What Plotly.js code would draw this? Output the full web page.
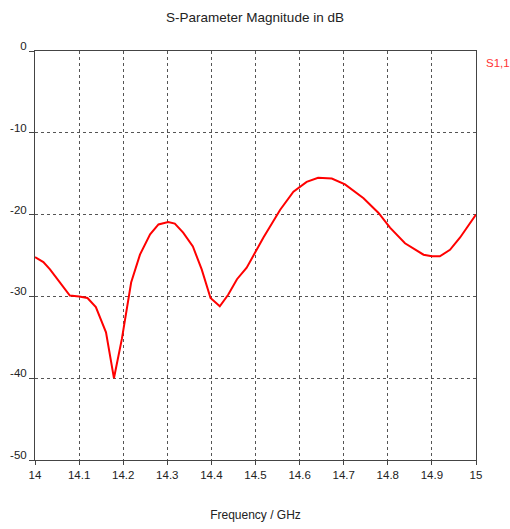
<!DOCTYPE html>
<html>
<head>
<meta charset="utf-8">
<script src="https://cdn.plot.ly/plotly-3.0.1.min.js"></script>
<style>html,body{margin:0;padding:0;background:#fff;}#chart{width:510px;height:529px;}</style>
</head>
<body>
<div id="chart"></div>
<script>
var freq = [14.000, 14.019, 14.034, 14.064, 14.079, 14.100, 14.119, 14.138, 14.161, 14.179, 14.197, 14.218, 14.238, 14.261, 14.280, 14.302, 14.317, 14.336, 14.358, 14.378, 14.398, 14.419, 14.438, 14.458, 14.480, 14.518, 14.556, 14.586, 14.616, 14.642, 14.673, 14.703, 14.745, 14.779, 14.805, 14.839, 14.881, 14.900, 14.918, 14.941, 14.964, 15.000];
var s11 = [-25.2, -25.8, -26.7, -28.9, -29.9, -30.0, -30.2, -31.3, -34.4, -40.0, -35.2, -28.3, -24.9, -22.4, -21.2, -20.9, -21.1, -22.2, -23.9, -26.7, -30.2, -31.2, -29.8, -27.9, -26.5, -22.8, -19.4, -17.2, -16.0, -15.5, -15.6, -16.3, -18.0, -19.8, -21.6, -23.5, -24.9, -25.1, -25.1, -24.3, -22.8, -20.0];
var xTicks = [14, 14.1, 14.2, 14.3, 14.4, 14.5, 14.6, 14.7, 14.8, 14.9, 15];
var xTickText = ['14', '14.1', '14.2', '14.3', '14.4', '14.5', '14.6', '14.7', '14.8', '14.9', '15'];
var yTicks = [0, -10, -20, -30, -40, -50];
var yTickText = ['0', '-10', '-20', '-30', '-40', '-50'];
var seriesName = 'S1,1';

var fam = 'Liberation Sans, Arial, sans-serif';
var tickFont = {family: fam, size: 11.5, color: '#222'};
var trace = {x: freq, y: s11, type: 'scatter', mode: 'lines', name: seriesName,
  line: {color: '#ff0000', width: 2}};
var layout = {
  width: 510, height: 529,
  margin: {l: 35, r: 34, t: 51, b: 69},
  paper_bgcolor: '#fff', plot_bgcolor: '#fff',
  showlegend: false,
  font: tickFont,
  title: {text: 'S-Parameter Magnitude in dB', font: {family: fam, size: 13.5, color: '#222'},
    x: 0.5, xanchor: 'center', y: 0.968, yanchor: 'middle'},
  xaxis: {range: [14, 15], tickvals: xTicks, ticktext: xTickText, showgrid: true,
    gridcolor: '#555', griddash: 'dot', gridwidth: 1, zeroline: false,
    showline: true, linecolor: '#444', mirror: true, ticks: 'outside', ticklen: 4, tickcolor: '#444',
    tickfont: tickFont, title: {text: 'Frequency / GHz', font: {family: fam, size: 12, color: '#222'}, standoff: 30}},
  yaxis: {range: [-50, 0], tickvals: yTicks, ticktext: yTickText, showgrid: true,
    gridcolor: '#555', griddash: 'dot', gridwidth: 1, zeroline: false,
    showline: true, linecolor: '#444', mirror: true, ticks: 'outside', ticklen: 5, tickcolor: '#444',
    tickfont: tickFont, ticklabelshift: -5},
  annotations: [{text: seriesName, xref: 'paper', yref: 'paper', x: 1.018, y: 0.97,
    xanchor: 'left', yanchor: 'middle', showarrow: false,
    font: {family: fam, size: 11.5, color: '#ff3333'}}]
};
Plotly.newPlot('chart', [trace], layout, {displayModeBar: false, staticPlot: true});
</script>
</body>
</html>
